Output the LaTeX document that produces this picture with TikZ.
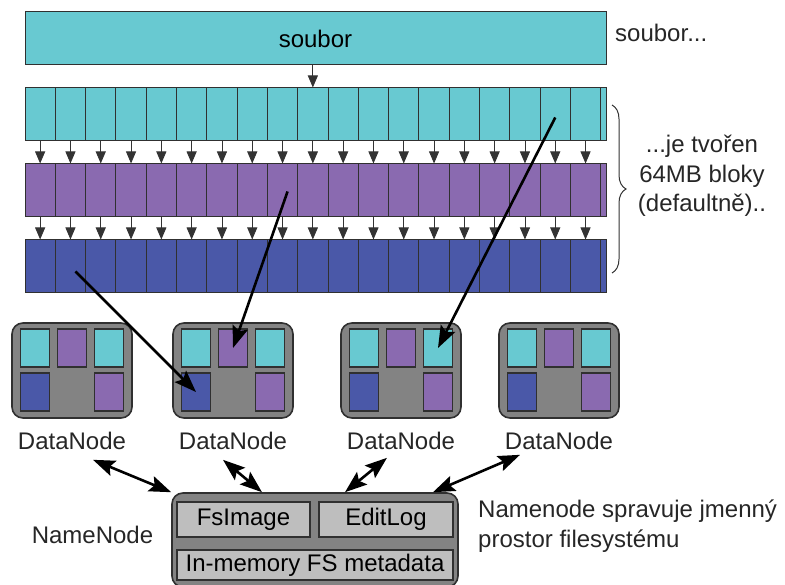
\documentclass[tikz,border=0pt]{standalone}
\usepackage{fontspec}
\setmainfont{Liberation Sans}
\usetikzlibrary{arrows.meta,positioning,decorations.pathreplacing}
\definecolor{blkcyan}{HTML}{68C9D1}
\definecolor{blkviolet}{HTML}{8A6AB0}
\definecolor{blkblue}{HTML}{4A58A8}
\definecolor{nodegray}{HTML}{838383}
\definecolor{metagray}{HTML}{BEBEBE}
\definecolor{edgegray}{HTML}{303030}
\tikzset{
	cell/.style={draw=edgegray, line width=1pt, inner sep=0pt, minimum width=30.3pt, minimum height=53pt},
	dcell/.style={draw=edgegray, line width=1.1pt, inner sep=0pt, minimum width=29pt, minimum height=38pt},
	dnbox/.style={draw=edgegray, fill=nodegray, line width=1.6pt, rounded corners=11pt, minimum width=120pt, minimum height=95pt},
	metabox/.style={draw=edgegray, fill=metagray, line width=1.1pt, inner sep=0pt},
	txt/.style={inner sep=0pt, text=black!85},
	split/.style={draw=black!80, line width=0.9pt, -{Triangle[length=12pt,width=10pt]}},
	bigarrow/.style={draw=black, line width=2.6pt, -{Stealth[length=22pt,width=16pt,inset=4pt]}},
	link/.style={draw=black, line width=2.6pt, {Stealth[length=22pt,width=16pt,inset=4pt]}-{Stealth[length=22pt,width=16pt,inset=4pt]}}
}
\begin{document}
\begin{tikzpicture}[x=1pt, y=-1pt, font=\fontsize{24}{29.5}\selectfont]
	\useasboundingbox (0,0) rectangle (785,585);
	% file and its blocks
	\node[cell, fill=blkcyan, minimum width=581pt] (soubor) at (315.5,38.5) {soubor};
	\node[txt, anchor=base west] (souborlbl) at (615,42) {soubor...};
	\foreach \r/\y/\c in {1/114.5/blkcyan, 2/190.5/blkviolet, 3/266.5/blkblue} {
		\foreach \i in {1,...,19}
			\node[cell, fill=\c] (c\r-\i) at ({25+(\i-0.5)*30.3},\y) {};
		\node[cell, fill=\c, minimum width=5.8pt] (c\r-20) at (603.6,\y) {};
	}
	\draw[split] (soubor.south -| c1-10) -- (c1-10.north);
	\foreach \i in {1,...,19} {
		\draw[split] (c1-\i.south) -- (c2-\i.north);
		\draw[split] (c2-\i.south) -- (c3-\i.north);
	}
	\coordinate (brtop) at (612,105);
	\coordinate (brbot) at (612,273);
	\draw[black!80, line width=1pt, decorate, decoration={brace, amplitude=14pt}] (brtop) -- (brbot);
	\node[txt, align=center] (bloky) at (702,176) {...je tvořen\\64MB bloky\\(defaultně)..};
	% datanodes
	\foreach \b/\x in {1/72, 2/233, 3/401, 4/559} {
		\node[dnbox] (dn\b) at (\x,370.5) {};
		\node[dcell, fill=blkcyan] (d\b-tl) at (\x-37,348) {};
		\node[dcell, fill=blkviolet] (d\b-tm) at (\x,348) {};
		\node[dcell, fill=blkcyan] (d\b-tr) at (\x+37,348) {};
		\node[dcell, fill=blkblue] (d\b-bl) at (\x-37,392) {};
		\node[dcell, fill=blkviolet] (d\b-br) at (\x+37,392) {};
		\node[txt, below=13pt of dn\b] (l\b) {DataNode};
	}
	\draw[bigarrow] ([xshift=5pt,yshift=-5pt]c3-2.center) -- (d2-bl.center);
	\draw[bigarrow] ([xshift=5pt,yshift=-1pt]c2-9.center) -- (d2-tm.center);
	\draw[bigarrow] ([yshift=-3pt]c1-18.center) -- (d3-tr.center);
	% namenode
	\node[dnbox, minimum width=286pt, minimum height=94pt] (nn) at (315,540) {};
	\node[metabox, minimum width=133pt, minimum height=35pt] (fsimage) at (243.5,519.5) {FsImage};
	\node[metabox, minimum width=134pt, minimum height=35pt] (editlog) at (386,519.5) {EditLog};
	\node[metabox, minimum width=276pt, minimum height=30pt] (metadata) at (315,565) {In-memory FS metadata};
	\node[txt] (nnlbl) at (92.5,534.5) {NameNode};
	\node[txt, align=left, anchor=north west] (nntext) at (478,500) {Namenode spravuje jmenný\\prostor filesystému};
	\draw[link] ([xshift=21pt,yshift=-10pt]l1.south) -- (nn.north west);
	\draw[link] ([xshift=-10pt,yshift=-10pt]l2.south) -- ([xshift=-53pt]nn.north);
	\draw[link] ([xshift=-14pt,yshift=-8pt]l3.south) -- ([xshift=30pt]nn.north);
	\draw[link] ([xshift=-39pt,yshift=-5pt]l4.south) -- ([xshift=118pt]nn.north);
\end{tikzpicture}
\end{document}
